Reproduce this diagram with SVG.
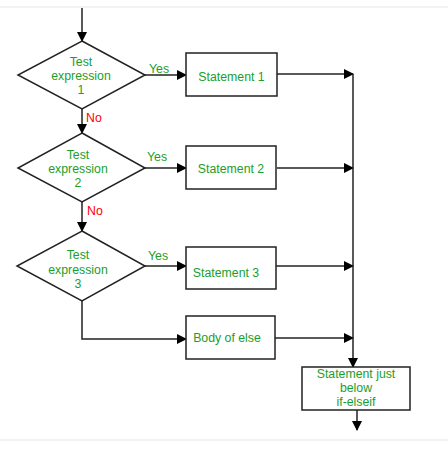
<svg xmlns="http://www.w3.org/2000/svg" width="448" height="453" viewBox="0 0 448 453">
<defs>
<marker id="ah" markerWidth="10" markerHeight="10" refX="9" refY="5" orient="auto" markerUnits="userSpaceOnUse">
<path d="M0,0 L10,5 L0,10 Z" fill="#000"/>
</marker>
<style>
.shape{fill:#fff;stroke:#222;stroke-width:1.5}
.con{fill:none;stroke:#222;stroke-width:1.5}
.t{font-family:"Liberation Sans",Arial,sans-serif;font-size:12.3px;fill:#1a9e2c;text-anchor:middle}
.no{font-family:"Liberation Sans",Arial,sans-serif;font-size:12.3px;fill:#ff0000}
.yes{font-family:"Liberation Sans",Arial,sans-serif;font-size:12.3px;fill:#1a9e2c}
.sep{stroke:#eeeeee;stroke-width:1.5}
</style>
</defs>
<rect width="448" height="453" fill="#fff"/>
<line class="sep" x1="0" y1="7" x2="448" y2="7"/>
<line class="sep" x1="0" y1="440" x2="448" y2="440"/>
<g id="connectors">
<line class="con" x1="82" y1="8" x2="82" y2="41" marker-end="url(#ah)"/>
<line class="con" x1="145" y1="75" x2="186" y2="75" marker-end="url(#ah)"/>
<line class="con" x1="82" y1="109" x2="82" y2="133" marker-end="url(#ah)"/>
<line class="con" x1="145" y1="168" x2="186" y2="168" marker-end="url(#ah)"/>
<line class="con" x1="82" y1="202" x2="82" y2="231" marker-end="url(#ah)"/>
<line class="con" x1="145" y1="266" x2="186" y2="266" marker-end="url(#ah)"/>
<polyline class="con" points="82,301 82,339 186,339" marker-end="url(#ah)"/>
<line class="con" x1="277" y1="74" x2="353" y2="74" marker-end="url(#ah)"/>
<line class="con" x1="277" y1="168" x2="353" y2="168" marker-end="url(#ah)"/>
<line class="con" x1="276" y1="266" x2="353" y2="266" marker-end="url(#ah)"/>
<line class="con" x1="275" y1="338" x2="353" y2="338" marker-end="url(#ah)"/>
<line class="con" x1="353" y1="74" x2="353" y2="367" marker-end="url(#ah)"/>
<line class="con" x1="357" y1="410" x2="357" y2="430" marker-end="url(#ah)"/>
<text class="yes" x="149" y="73">Yes</text>
<text class="no" x="86" y="122">No</text>
<text class="yes" x="147" y="161">Yes</text>
<text class="no" x="87" y="215">No</text>
<text class="yes" x="148" y="260">Yes</text>
</g>
<g id="cond1">
<polygon class="shape" points="82,41 145,75 82,109 18,75"/>
<text class="t" x="81" y="66">Test</text>
<text class="t" x="81" y="80.2">expression</text>
<text class="t" x="81" y="94.4">1</text>
</g>
<g id="stmt1">
<rect class="shape" x="186" y="53" width="91" height="43"/>
<text class="t" x="231.5" y="81">Statement 1</text>
</g>
<g id="cond2">
<polygon class="shape" points="82,133 145,168 82,202 18,168"/>
<text class="t" x="78" y="159">Test</text>
<text class="t" x="78" y="173.2">expression</text>
<text class="t" x="78" y="187.4">2</text>
</g>
<g id="stmt2">
<rect class="shape" x="186" y="146" width="90" height="43"/>
<text class="t" x="231" y="173">Statement 2</text>
</g>
<g id="cond3">
<polygon class="shape" points="82,231 145,266 82,301 17,266"/>
<text class="t" x="78" y="259">Test</text>
<text class="t" x="78" y="273.5">expression</text>
<text class="t" x="78" y="288">3</text>
</g>
<g id="stmt3">
<rect class="shape" x="186" y="247" width="90" height="42"/>
<text class="t" x="226" y="277">Statement 3</text>
</g>
<g id="else">
<rect class="shape" x="186" y="316" width="89" height="43"/>
<text class="t" x="227" y="342">Body of else</text>
</g>
<g id="after">
<rect class="shape" x="302" y="367" width="108" height="43"/>
<text class="t" x="356" y="378">Statement just</text>
<text class="t" x="356" y="392.2">below</text>
<text class="t" x="356" y="406.4">if-elseif</text>
</g>
</svg>
